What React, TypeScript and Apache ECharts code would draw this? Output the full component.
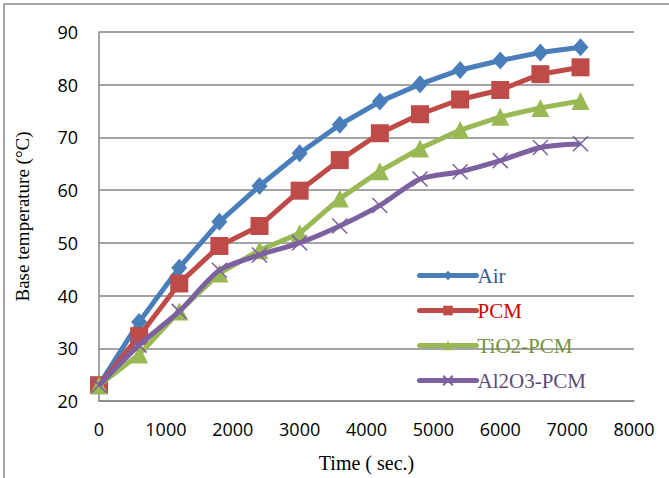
import React, { useEffect, useRef } from "react";
import * as echarts from "echarts";

const timeSec = [0, 600, 1200, 1800, 2400, 3000, 3600, 4200, 4800, 5400, 6000, 6600, 7200];
const airTemp = [23, 35, 45.3, 54, 60.8, 67, 72.4, 76.8, 80.1, 82.8, 84.6, 86.1, 87.1];
const pcmTemp = [23, 32.3, 42.3, 49.4, 53.2, 59.9, 65.7, 70.8, 74.4, 77.2, 79.0, 82.0, 83.3];
const tio2Temp = [23, 28.8, 37.0, 44.2, 48.6, 51.8, 58.4, 63.6, 67.9, 71.4, 73.9, 75.6, 76.9];
const al2o3Temp = [23, 30.6, 37.0, 44.8, 47.7, 50.0, 53.2, 57.1, 62.1, 63.5, 65.6, 68.1, 68.8];

const seriesNames = ["Air", "PCM", "TiO2-PCM", "Al2O3-PCM"];
const lineColors = ["#4A7EBB", "#BE4B48", "#98B954", "#7D60A0"];
const legendTextColors = ["#34598C", "#CC0000", "#76923C", "#5F497A"];
const xTicks = { min: 0, max: 8000, interval: 1000 };
const yTicks = { min: 20, max: 90, interval: 10 };

const pairs = (ys: number[]) => timeSec.map((t, i) => [t, ys[i]]);

export default function App() {
  const ref = useRef<HTMLDivElement>(null);
  useEffect(() => {
    if (!ref.current) return;
    const chart = echarts.init(ref.current, null, { renderer: "svg" });
    const data = [airTemp, pcmTemp, tio2Temp, al2o3Temp];
    const symbols = [
      "diamond",
      "rect",
      "triangle",
      "path://M0,0L10,10M10,0L0,10",
    ];
    const sizes = [[16, 18], 18, 18, 15];
    chart.setOption({
      animation: false,
      backgroundColor: "#ffffff",
      grid: { left: 99, right: 35, top: 32, bottom: 71, containLabel: false },
      legend: {
        orient: "vertical",
        left: 412,
        top: 260,
        itemWidth: 57,
        itemHeight: 12,
        itemGap: 14,
        lineStyle: { width: 5, cap: "round" },
        textStyle: { fontFamily: "Liberation Serif", fontSize: 21, padding: [0, 0, 0, -4] },
        data: seriesNames.map((n, i) => ({ name: n, textStyle: { color: legendTextColors[i] } })),
      },
      xAxis: {
        type: "value",
        min: xTicks.min,
        max: xTicks.max,
        interval: xTicks.interval,
        name: "Time ( sec.)",
        nameLocation: "middle",
        nameGap: 52,
        nameTextStyle: { fontFamily: "Liberation Serif", fontSize: 20, color: "#000" },
        axisLine: { show: true, lineStyle: { color: "#868686", width: 1.5 } },
        axisTick: { show: false },
        splitLine: { show: false },
        axisLabel: {
          fontFamily: "Open Sans",
          fontSize: 18,
          color: "#000",
          margin: 19,
          formatter: (v: number) => String(v),
        },
      },
      yAxis: {
        type: "value",
        min: yTicks.min,
        max: yTicks.max,
        interval: yTicks.interval,
        name: "Base temperature (°C)",
        nameLocation: "middle",
        nameGap: 67,
        nameTextStyle: { fontFamily: "Liberation Serif", fontSize: 19, color: "#000" },
        axisLine: { show: true, lineStyle: { color: "#868686", width: 1.5 } },
        axisTick: { show: false },
        splitLine: { show: true, lineStyle: { color: "#868686", width: 1.5 } },
        axisLabel: {
          fontFamily: "Open Sans",
          fontSize: 18,
          color: "#000",
          margin: 21,
          formatter: (v: number) => String(v),
        },
      },
      graphic: [
        {
          type: "polyline",
          shape: { points: [[4, 478], [4, 4], [669, 4]] },
          style: { stroke: "#A6A6A6", lineWidth: 2, fill: "none" },
          silent: true,
        },
      ],
      series: seriesNames.map((n, i) => ({
        name: n,
        type: "line",
        data: pairs(data[i]),
        symbol: symbols[i],
        symbolSize: sizes[i],
        smooth: i === 3 ? 0.25 : false,
        lineStyle: { color: lineColors[i], width: 5 },
        itemStyle:
          i === 3
            ? { color: lineColors[i], borderColor: lineColors[i], borderWidth: 1.5 }
            : { color: lineColors[i] },
        z: 2 + i,
      })),
    });
    return () => chart.dispose();
  }, []);
  return <div ref={ref} style={{ width: 669, height: 478, position: "absolute", left: 0, top: 0 }} />;
}
